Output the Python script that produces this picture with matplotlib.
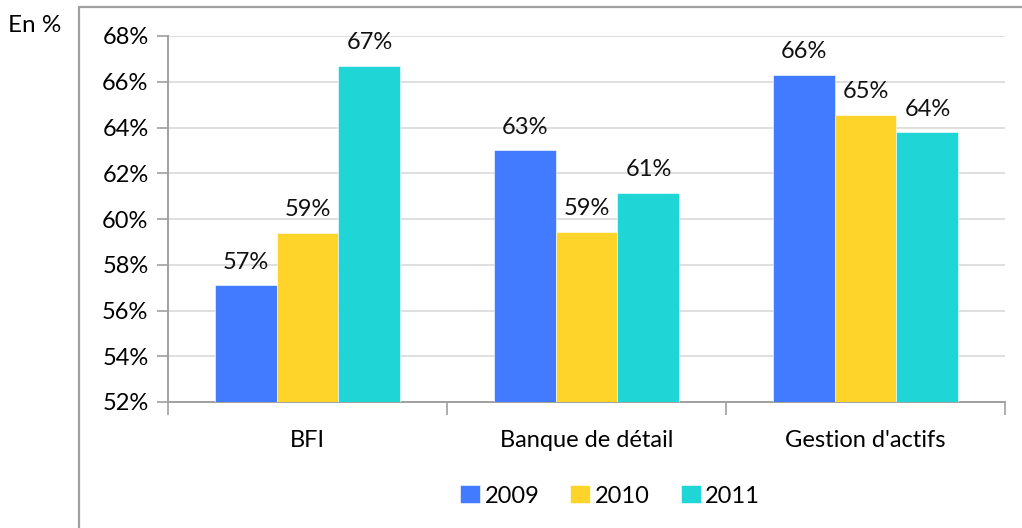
import numpy as np
import matplotlib
matplotlib.use("Agg")
import matplotlib.pyplot as plt
from matplotlib.patches import Rectangle
from matplotlib.ticker import FuncFormatter

categories = ["BFI", "Banque de détail", "Gestion d'actifs"]
years = ["2009", "2010", "2011"]
v2009 = [57.1, 63.0, 66.3]
v2010 = [59.4, 59.45, 64.55]
v2011 = [66.7, 61.15, 63.8]
colors = ["#427BFF", "#FFD42A", "#1FD5D6"]

plt.rcParams["font.family"] = ["Lato", "DejaVu Sans"]
FS = 17

fig = plt.figure(figsize=(10.22, 5.28), dpi=100)
ax = fig.add_axes([168 / 1022, 1 - 402 / 528, (1005 - 168) / 1022, (402 - 36) / 528])

# outer frame, cut off at right and bottom like the original
fig.patches.append(Rectangle((79 / 1022, -0.1), 1.2, 1 - 7 / 528 + 0.1,
                             transform=fig.transFigure, fill=False,
                             edgecolor="#A0A0A0", linewidth=1.6))

x = np.arange(len(categories))
width = 0.222
series = [v2009, v2010, v2011]
for i, (vals, col, yr) in enumerate(zip(series, colors, years)):
    pos = x + (i - 1) * width
    ax.bar(pos, np.array(vals) - 52, width, bottom=52, color=col,
           edgecolor="white", linewidth=0.4, label=yr, zorder=3)
    for px, v in zip(pos, vals):
        ax.annotate(f"{round(v)}%", (px, v), xytext=(0, 9),
                    textcoords="offset points", ha="center", va="bottom",
                    fontsize=FS, color="#111111")

ax.set_ylim(52, 68)
ax.set_yticks(np.arange(52, 69, 2))
ax.yaxis.set_major_formatter(FuncFormatter(lambda v, _: f"{v:.0f}%"))
ax.set_xlim(-0.5, 2.5)
ax.set_xticks(x)
ax.set_xticklabels(categories)
ax.set_xticks([-0.5, 0.5, 1.5, 2.5], minor=True)
ax.tick_params(axis="x", which="major", length=0, pad=20, labelsize=FS)
ax.tick_params(axis="x", which="minor", length=9, width=1.2, color="#A0A0A0", direction="out")
ax.tick_params(axis="y", length=8, width=1.2, color="#A0A0A0", pad=6, labelsize=FS)
ax.grid(axis="y", color="#D9D9D9", linewidth=1.2, zorder=0)
for s in ["top", "right"]:
    ax.spines[s].set_visible(False)
for s in ["left", "bottom"]:
    ax.spines[s].set_color("#A0A0A0")
    ax.spines[s].set_linewidth(1.4)

fig.text(8 / 1022, 1 - 25 / 528, "En %", fontsize=FS + 0.5, va="center", ha="left")

fig.legend(loc="center", bbox_to_anchor=(610 / 1022, 1 - 496 / 528), ncol=3,
           frameon=False, fontsize=FS, handlelength=0.85, handleheight=0.8,
           handletextpad=0.2, columnspacing=1.3)

fig.savefig("out.png", dpi=100)
